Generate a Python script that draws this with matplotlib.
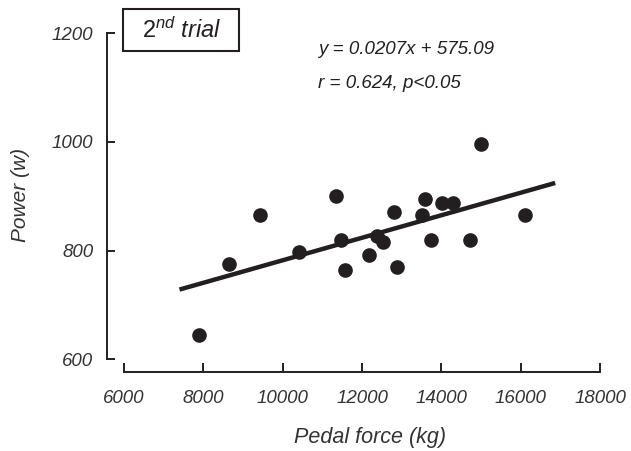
import matplotlib
matplotlib.use('Agg')
import matplotlib.pyplot as plt
from matplotlib.patches import Rectangle

# pedal force (kg) vs power (w), 2nd trial
pedal_force = [7880, 8660, 9440, 10420, 11340, 11460, 11560, 12180, 12390, 12530,
               12810, 12880, 13510, 13590, 13730, 14010, 14300, 14710, 14990, 16100]
power = [645, 775, 865, 798, 900, 820, 764, 791, 826, 815,
         871, 770, 866, 894, 820, 888, 888, 820, 996, 866]

slope = 0.0207
intercept = 575.09
fit_x = [7400, 16870]

x_ticks = [6000, 8000, 10000, 12000, 14000, 16000, 18000]
y_ticks = [600, 800, 1000, 1200]

plt.rcParams['font.family'] = ['Liberation Sans', 'DejaVu Sans']
plt.rcParams['mathtext.fontset'] = 'custom'
plt.rcParams['mathtext.rm'] = 'Liberation Sans'
plt.rcParams['mathtext.it'] = 'Liberation Sans:italic'

ink = '#231f20'
grey = '#333333'

fig = plt.figure(figsize=(6.31, 4.51), dpi=100)
ax = fig.add_axes([0.170, 0.1758, 0.7809, 0.751])

ax.plot(fit_x, [slope * v + intercept for v in fit_x], color=ink, lw=3.2,
        solid_capstyle='butt', zorder=2)
ax.plot(pedal_force, power, 'o', color=ink, ms=9.5, mec=ink, zorder=3, clip_on=False)

ax.set_xlim(5579, 18000)
ax.set_ylim(577.2, 1200)

for side in ['top', 'right']:
    ax.spines[side].set_visible(False)
ax.spines['left'].set_bounds(600, 1200)
ax.spines['bottom'].set_bounds(6000, 18000)
for side in ['left', 'bottom']:
    ax.spines[side].set_linewidth(1.4)
    ax.spines[side].set_color(ink)

ax.set_xticks(x_ticks)
ax.set_yticks(y_ticks)
ax.tick_params(axis='x', direction='in', length=6.2, width=1.4, color=ink,
               pad=13, labelsize=13.5, labelcolor=grey)
ax.tick_params(axis='y', direction='in', length=5.5, width=1.4, color=ink,
               pad=10, labelsize=13.5, labelcolor=grey)
for lab in ax.get_xticklabels() + ax.get_yticklabels():
    lab.set_fontstyle('italic')

fig.text(370 / 631, 1 - 438 / 451, 'Pedal force (kg)', ha='center', va='center',
         fontsize=15.5, style='italic', color=grey)
fig.text(21 / 631, 1 - 195 / 451, 'Power (w)', ha='center', va='center',
         rotation=90, fontsize=15, style='italic', color=grey)

# boxed trial label
fig.patches.append(Rectangle((123.3 / 631, 1 - 50.7 / 451), 116 / 631, 41.4 / 451,
                             transform=fig.transFigure, fill=False, ec=ink, lw=1.5))
fig.text(181.5 / 631, 1 - 30 / 451, r'$\mathit{2}^{\mathit{nd}}$ trial', ha='center',
         va='center', fontsize=17, style='italic', color=ink)

fig.text(318 / 631, 1 - 50 / 451, 'y = 0.0207x + 575.09', ha='left', va='center',
         fontsize=13.5, style='italic', color=ink)
fig.text(318 / 631, 1 - 83 / 451, 'r = 0.624, p<0.05', ha='left', va='center',
         fontsize=13.5, style='italic', color=ink)

fig.savefig('out.png', dpi=100)
